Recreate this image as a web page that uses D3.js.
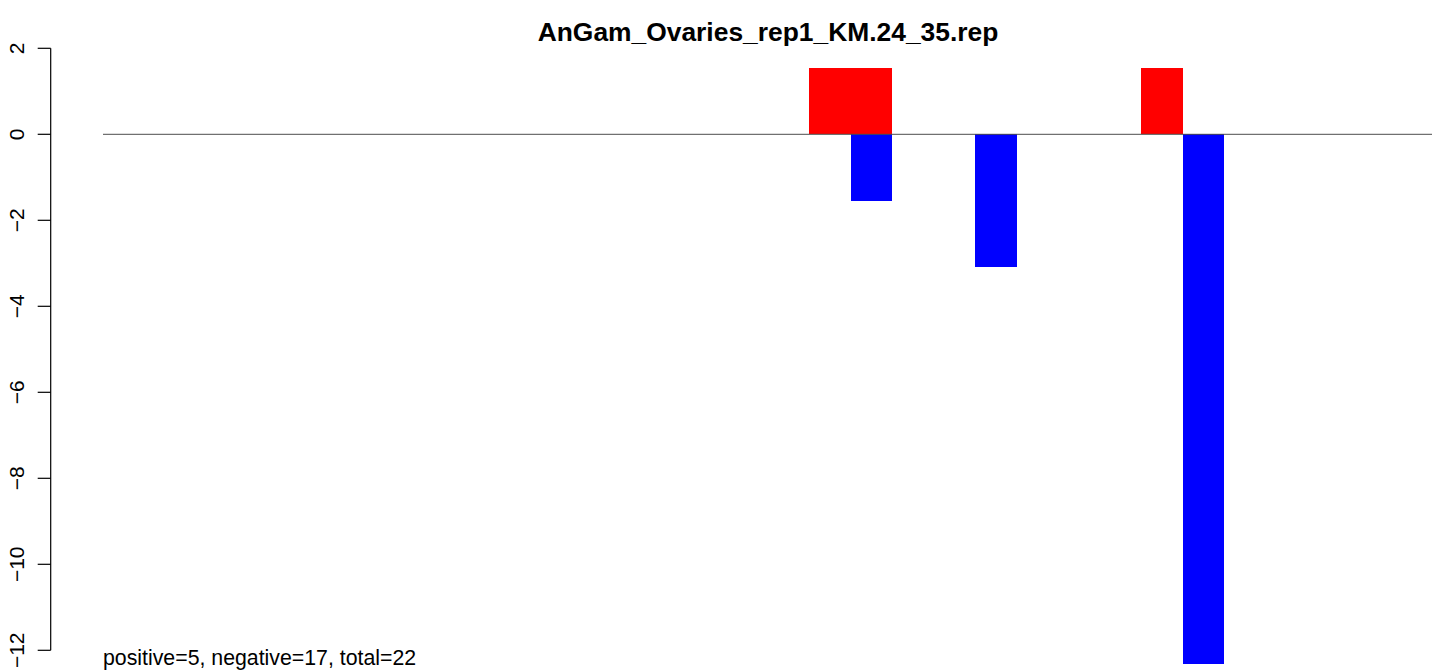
<!DOCTYPE html>
<html lang="en">
<head>
  <meta charset="UTF-8" />
  <title>AnGam_Ovaries_rep1_KM.24_35.rep</title>
  <script src="https://cdn.jsdelivr.net/npm/d3@7"></script>
  <style>
    html, body { margin: 0; padding: 0; background: #fff; overflow: hidden; }
    svg { display: block; font-family: "Liberation Sans", Arial, Helvetica, sans-serif; }
  </style>
</head>
<body>
  <script>
    // 32 bins along x, positive (red) and negative (blue) values per bin
    const bins = d3.range(1, 33);
    const positive = [0,0,0,0,0,0,0,0,0,0,0,0,0,0,0,0,0,1.54,1.54,0,0,0,0,0,0,1.54,0,0,0,0,0,0];
    const negative = [0,0,0,0,0,0,0,0,0,0,0,0,0,0,0,0,0,0,-1.54,0,0,-3.08,0,0,0,0,-12.33,0,0,0,0,0];
    const yTicks = [2, 0, -2, -4, -6, -8, -10, -12];
    const title = "AnGam_Ovaries_rep1_KM.24_35.rep";
    const footer = "positive=5, negative=17, total=22";

    const width = 1439, height = 671;

    const svg = d3.select("body").append("svg")
      .attr("width", width)
      .attr("height", height);

    // x: bins laid edge to edge
    const x = d3.scaleBand()
      .domain(bins)
      .range([103, 1432])
      .padding(0);

    const y = d3.scaleLinear()
      .domain([-12, 2])
      .range([650.3, 48.3]);

    // bars (crisp edges so neighbouring bars don't show a seam)
    svg.append("g").attr("shape-rendering", "crispEdges").selectAll("rect")
      .data(bins.map((b, i) => ({ b, v: positive[i] })).filter(d => d.v !== 0))
      .join("rect")
        .attr("x", d => x(d.b))
        .attr("width", x.bandwidth())
        .attr("y", d => y(d.v))
        .attr("height", d => y(0) - y(d.v))
        .attr("fill", "#ff0000");

    svg.append("g").attr("shape-rendering", "crispEdges").selectAll("rect")
      .data(bins.map((b, i) => ({ b, v: negative[i] })).filter(d => d.v !== 0))
      .join("rect")
        .attr("x", d => x(d.b))
        .attr("width", x.bandwidth())
        .attr("y", y(0))
        .attr("height", d => y(d.v) - y(0))
        .attr("fill", "#0000ff");

    // zero line
    svg.append("line")
      .attr("x1", x.range()[0])
      .attr("x2", x.range()[1])
      .attr("y1", y(0))
      .attr("y2", y(0))
      .attr("stroke", "#4d4d4d")
      .attr("stroke-width", 1);

    // y axis, R style with rotated labels
    const axisX = 50.7;
    const yAxis = svg.append("g");
    yAxis.append("line")
      .attr("x1", axisX).attr("x2", axisX)
      .attr("y1", y(yTicks[0])).attr("y2", y(yTicks[yTicks.length - 1]))
      .attr("stroke", "#000").attr("stroke-width", 1.2);
    yAxis.selectAll("line.tick")
      .data(yTicks)
      .join("line")
        .attr("x1", axisX - 13).attr("x2", axisX)
        .attr("y1", d => y(d)).attr("y2", d => y(d))
        .attr("stroke", "#000").attr("stroke-width", 1.2);
    yAxis.selectAll("text")
      .data(yTicks)
      .join("text")
        .attr("transform", d => `translate(24,${y(d)}) rotate(-90)`)
        .attr("text-anchor", "middle")
        .attr("font-size", 21)
        .text(d => d < 0 ? "\u2212" + Math.abs(d) : d);

    // title
    svg.append("text")
      .attr("x", 768)
      .attr("y", 41)
      .attr("text-anchor", "middle")
      .attr("font-size", 26.4)
      .attr("font-weight", "bold")
      .text(title);

    // footer note
    svg.append("text")
      .attr("x", x.range()[0])
      .attr("y", 665)
      .attr("font-size", 21.3)
      .text(footer);
  </script>
</body>
</html>
